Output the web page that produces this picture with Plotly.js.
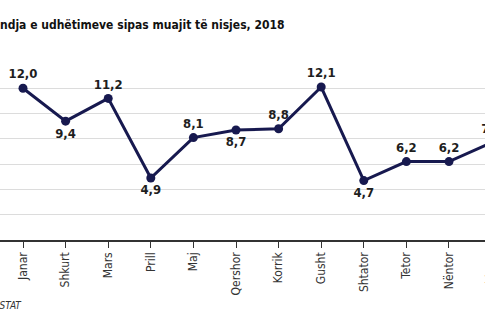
<!DOCTYPE html>
<html>
<head>
<meta charset="utf-8">
<script src="https://cdn.plot.ly/plotly-3.0.1.min.js"></script>
<style>
html,body{margin:0;padding:0;overflow:hidden;width:485px;height:325px;background:#fff;}
#chart{position:absolute;left:-40px;top:0;width:560px;height:325px;}
</style>
</head>
<body>
<div id="chart"></div>
<script>
const months = ["Janar","Shkurt","Mars","Prill","Maj","Qershor","Korrik","Gusht","Shtator","Tetor","Nëntor","Dhjetor"];
const values = [12.0, 9.4, 11.2, 4.9, 8.1, 8.7, 8.8, 12.1, 4.7, 6.2, 6.2, 7.7];
const labelPos = ["top center","bottom center","top center","bottom center","top center","bottom center","top center","top center","bottom center","top center","top center","top center"];
const titleText = "Përqindja e udhëtimeve sipas muajit të nisjes, 2018";
const sourceText = "Burimi: INSTAT";

const FONT = "DejaVu Sans Condensed, Liberation Sans Narrow, sans-serif";
const W = 560, H = 325, T = 63, B = 85, OFF = 40;
const plotH = H - T - B;
const TITLE_SIZE = 12;

// width of the hidden title prefix, so the visible part starts at the window edge
const ctx = document.createElement("canvas").getContext("2d");
ctx.font = "bold " + TITLE_SIZE + "px 'DejaVu Sans Condensed'";
const prefixW = ctx.measureText("Përqi").width;

const trace = {
  x: months, y: values, type: "scatter", mode: "lines+markers+text",
  line: {color: "#17194f", width: 3},
  marker: {color: "#17194f", size: 9},
  text: values.map(v => v.toFixed(1).replace(".", ",")),
  textposition: labelPos,
  textfont: {family: FONT, size: 13, color: "#1e1e1e", weight: "bold"},
  cliponaxis: false, hoverinfo: "skip"
};
const layout = {
  width: W, height: H,
  margin: {l: 0, r: 0, t: T, b: B},
  paper_bgcolor: "#fff", plot_bgcolor: "#fff",
  showlegend: false,
  xaxis: {
    type: "category", range: [-1.479, 11.667],
    showgrid: false, showline: true, linecolor: "#333", linewidth: 1.5,
    ticks: "outside", ticklen: 6, tickcolor: "#333", tickwidth: 1,
    tickangle: -90,
    tickfont: {family: FONT, size: 12, color: "#333"},
    fixedrange: true
  },
  yaxis: {
    range: [0, 14], dtick: 2, showgrid: true, gridcolor: "#dcdcdc", gridwidth: 1,
    showticklabels: false, zeroline: false, showline: false, ticks: "",
    fixedrange: true
  },
  annotations: [
    {text: titleText, xref: "paper", yref: "paper", x: (OFF - prefixW - 2)/W, y: (H - B - 25)/plotH,
     xanchor: "left", yanchor: "middle", showarrow: false,
     font: {family: FONT, size: TITLE_SIZE, color: "#111", weight: "bold"}},
    {text: "<i>" + sourceText + "</i>", xref: "paper", yref: "paper", x: (OFF + 24)/W, y: (H - B - 305)/plotH,
     xanchor: "right", yanchor: "middle", showarrow: false,
     font: {family: FONT, size: 10, color: "#333"}}
  ]
};
Plotly.newPlot("chart", [trace], layout, {staticPlot: true, displayModeBar: false});
</script>
</body>
</html>
